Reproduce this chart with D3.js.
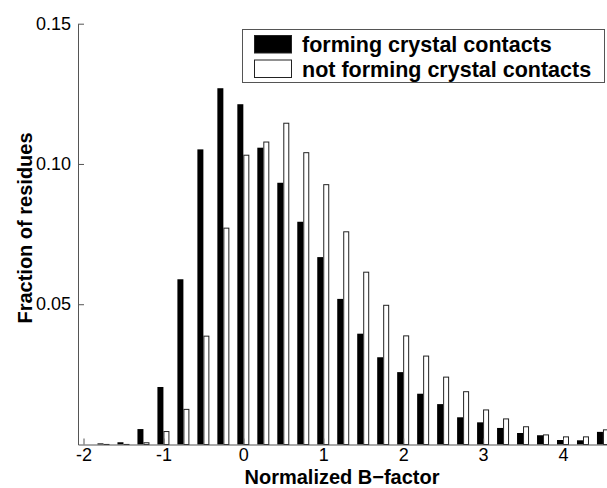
<!DOCTYPE html>
<html>
<head>
  <meta charset="utf-8">
  <title>Normalized B-factor histogram</title>
  <script src="https://d3js.org/d3.v7.min.js"></script>
  <style>
    body { margin: 0; background: #fff; }
    svg { font-family: "Liberation Sans", Arial, Helvetica, sans-serif; }
    .axis path, .axis line { stroke: #555; }
    .axis text { font-size: 18px; fill: #000; }
    .title { font-size: 20px; font-weight: bold; }
    .legend text { font-size: 21.5px; font-weight: bold; }
  </style>
</head>
<body>
  <div id="chart"></div>
  <script>
    // bin centres (normalized B-factor) and fraction of residues per bin
    const bins = [-2, -1.75, -1.5, -1.25, -1, -0.75, -0.5, -0.25, 0, 0.25, 0.5, 0.75, 1,
                  1.25, 1.5, 1.75, 2, 2.25, 2.5, 2.75, 3, 3.25, 3.5, 3.75, 4, 4.25, 4.5];
    const forming = [0, 0.0004, 0.0008, 0.0055, 0.0205, 0.0589, 0.1052, 0.127, 0.1213, 0.1058,
                     0.0933, 0.0794, 0.0668, 0.0519, 0.0395, 0.0311, 0.0258, 0.0181, 0.0144,
                     0.0097, 0.0079, 0.0059, 0.0041, 0.0033, 0.0016, 0.0015, 0.0045];
    const notForming = [0, 0.0002, 0.0002, 0.0008, 0.0048, 0.0127, 0.0388, 0.0773, 0.1033, 0.108,
                        0.1147, 0.1042, 0.0928, 0.076, 0.0616, 0.0498, 0.0389, 0.0317, 0.0242,
                        0.019, 0.0125, 0.0093, 0.0065, 0.0036, 0.0029, 0.0029, 0.0054];
    const xTicks = [-2, -1, 0, 1, 2, 3, 4];
    const yTicks = [0.05, 0.10, 0.15];
    const legendLabels = ["forming crystal contacts", "not forming crystal contacts"];

    const W = 607, H = 488;
    const plotLeft = 78, plotRight = 607, plotTop = 23.7, plotBottom = 444.5;

    const svg = d3.select("#chart").append("svg")
      .attr("width", W)
      .attr("height", H);

    // -2 sits at ~83.5px, 4 at ~563px
    const pxPerUnit = (563 - 83.5) / 6;
    const x = d3.scaleLinear()
      .domain([-2 - (83.5 - plotLeft) / pxPerUnit, 4 + (plotRight - 563) / pxPerUnit])
      .range([plotLeft, plotRight]);
    const y = d3.scaleLinear().domain([0, 0.15]).range([plotBottom, plotTop]);

    const bw = 0.075; // bar width in data units

    const data = bins.map((b, i) => ({ b: b, f: forming[i], n: notForming[i] }));

    const plot = svg.append("g");

    plot.selectAll(".bar-f")
      .data(data)
      .enter().append("rect")
      .attr("class", "bar-f")
      .attr("x", d => x(d.b - bw))
      .attr("y", d => y(d.f))
      .attr("width", x(bw) - x(0))
      .attr("height", d => plotBottom - y(d.f))
      .attr("fill", "#000");

    plot.selectAll(".bar-n")
      .data(data.filter(d => d.n > 0))
      .enter().append("rect")
      .attr("class", "bar-n")
      .attr("x", d => x(d.b) + 0.5)
      .attr("y", d => y(d.n) + 0.5)
      .attr("width", x(bw) - x(0) - 1)
      .attr("height", d => Math.max(0, plotBottom - y(d.n) - 0.5))
      .attr("fill", "#fff")
      .attr("stroke", "#222")
      .attr("stroke-width", 1);

    // axes, ticks pointing inward
    svg.append("g")
      .attr("class", "axis")
      .attr("transform", "translate(0," + plotBottom + ")")
      .call(d3.axisBottom(x).tickValues(xTicks).tickSizeInner(-6).tickSizeOuter(0).tickPadding(4)
        .tickFormat(d => String(d)));

    svg.append("g")
      .attr("class", "axis")
      .attr("transform", "translate(" + plotLeft + ",0)")
      .call(d3.axisLeft(y).tickValues(yTicks).tickSizeInner(-6).tickSizeOuter(0).tickPadding(7)
        .tickFormat(d3.format(".2f")));

    // axis titles
    svg.append("text")
      .attr("class", "title")
      .attr("x", 342)
      .attr("y", 483.5)
      .attr("text-anchor", "middle")
      .text("Normalized B\u2212factor");

    svg.append("text")
      .attr("class", "title")
      .attr("transform", "translate(32,228) rotate(-90)")
      .attr("text-anchor", "middle")
      .text("Fraction of residues");

    // legend
    const lg = svg.append("g").attr("class", "legend");
    lg.append("rect")
      .attr("x", 242.5).attr("y", 29.5)
      .attr("width", 362).attr("height", 53)
      .attr("fill", "#fff").attr("stroke", "#555");

    legendLabels.forEach((label, i) => {
      lg.append("rect")
        .attr("x", 254.5).attr("y", 35.5 + i * 24.5)
        .attr("width", 37).attr("height", 17.5)
        .attr("fill", i === 0 ? "#000" : "#fff")
        .attr("stroke", "#222");
      lg.append("text")
        .attr("x", 302)
        .attr("y", 52 + i * 25)
        .text(label);
    });
  </script>
</body>
</html>
